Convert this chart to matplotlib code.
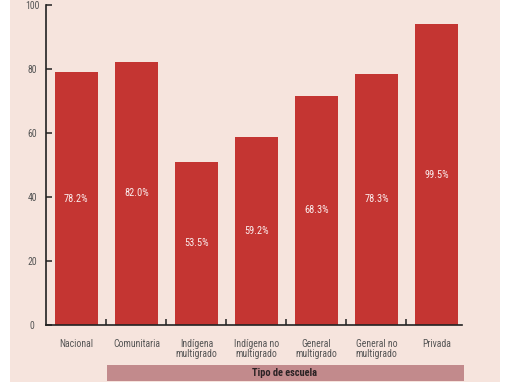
import matplotlib
matplotlib.use("Agg")
import matplotlib.pyplot as plt
from matplotlib import font_manager
from matplotlib.patches import Rectangle
from matplotlib.ticker import FixedLocator, NullFormatter

available = {f.name for f in font_manager.fontManager.ttflist}
preferred = ['Liberation Sans Narrow', 'Roboto Condensed', 'Open Sans Condensed',
             'DejaVu Sans Condensed', 'Arial Narrow', 'Roboto']
family = next((f for f in preferred if f in available), 'DejaVu Sans')
plt.rcParams['font.family'] = [family, 'DejaVu Sans']

categories = ["Nacional", "Comunitaria", "Indígena\nmultigrado", "Indígena no\nmultigrado",
              "General\nmultigrado", "General no\nmultigrado", "Privada"]
bar_heights = [79.0, 82.3, 51.0, 58.6, 71.6, 78.5, 94.0]
bar_labels = ["78.2%", "82.0%", "53.5%", "59.2%", "68.3%", "78.3%", "99.5%"]
y_ticks = [0, 20, 40, 60, 80, 100]
axis_title = "Tipo de escuela"

W, H = 510, 382
fig = plt.figure(figsize=(W / 100, H / 100), dpi=100)
fig.patch.set_facecolor("white")

# peach background panel
fig.patches.append(Rectangle((10 / W, 0), 490 / W, 1, transform=fig.transFigure,
                             facecolor="#f6e4dd", edgecolor="none", zorder=-2))
# category band
fig.patches.append(Rectangle((107 / W, 1 / H), 357 / W, 16 / H, transform=fig.transFigure,
                             facecolor="#c28a8c", edgecolor="none", zorder=-1))
fig.text(285 / W, 1 - 373 / H, axis_title, ha="center", va="center", fontsize=7.5,
         fontweight="bold", color="#2b2224")

ax = fig.add_axes([46 / W, 57 / H, 416 / W, 320 / H])
ax.set_facecolor("none")
ax.set_zorder(5)

x = list(range(len(categories)))
bars = ax.bar(x, bar_heights, width=0.715, color="#c43532", zorder=2)
for xi, h, lab in zip(x, bar_heights, bar_labels):
    ax.text(xi, h / 2, lab, ha="center", va="center", fontsize=7.5, color="#fbeeee", zorder=3)

ax.set_xlim(-0.507, 6.426)
ax.set_ylim(0, 100)
ax.set_yticks(y_ticks)
ax.set_yticklabels([str(t) for t in y_ticks], ha="center")
ax.tick_params(axis="y", direction="in", length=4, width=1.1, pad=10, labelsize=7,
               labelcolor="#555555", color="#222222")

ax.set_xticks(x)
ax.set_xticklabels(categories)
ax.tick_params(axis="x", which="major", length=0, pad=10, labelsize=7, labelcolor="#555555")
ax.xaxis.set_minor_locator(FixedLocator([i + 0.5 for i in range(len(categories) - 1)]))
ax.xaxis.set_minor_formatter(NullFormatter())
ax.tick_params(axis="x", which="minor", direction="in", length=4, width=1.1, color="#222222")
for t in ax.get_xticklabels():
    t.set_linespacing(1.0)
    t.set_va("top")

for s in ["top", "right"]:
    ax.spines[s].set_visible(False)
for s in ["left", "bottom"]:
    ax.spines[s].set_linewidth(1.2)
    ax.spines[s].set_color("#222222")

fig.savefig("out.png", dpi=100)
